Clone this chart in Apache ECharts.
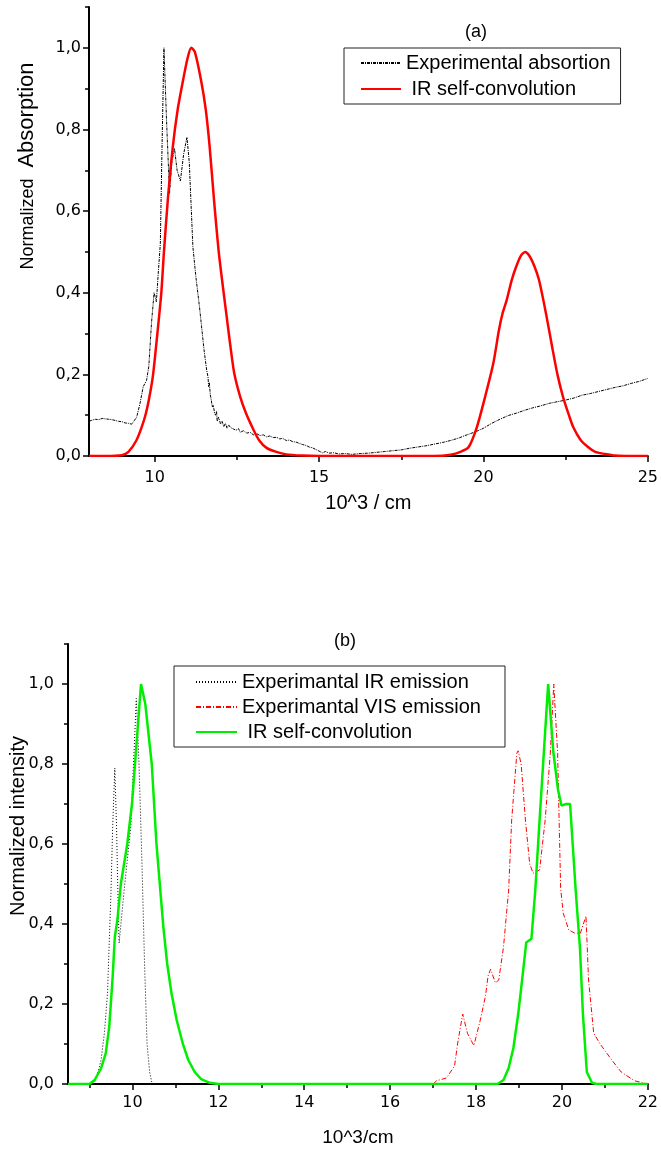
<!DOCTYPE html>
<html>
<head>
<meta charset="utf-8">
<script src="https://cdn.jsdelivr.net/npm/echarts@6/dist/echarts.min.js"></script>
<style>html,body{margin:0;padding:0;background:#fff;}#chart{width:661px;height:1151px;}</style>
</head>
<body>
<div id="chart"></div>
<script>
// ---------- Panel (a) data ----------
const absorptionExp = [
[8.0,0.085],[8.1,0.088],[8.2,0.09],[8.3,0.089],[8.4,0.092],[8.5,0.091],[8.6,0.09],[8.7,0.089],[8.8,0.087],[8.9,0.085],
[9.0,0.084],[9.1,0.081],[9.2,0.08],[9.3,0.078],[9.35,0.081],[9.45,0.095],
[9.55,0.128],[9.65,0.17],[9.75,0.185],[9.82,0.22],[9.9,0.325],[9.98,0.40],[10.05,0.378],[10.1,0.44],[10.17,0.52],
[10.22,0.75],[10.28,1.0],[10.36,0.82],[10.45,0.643],[10.52,0.72],[10.6,0.754],[10.68,0.70],[10.78,0.674],[10.88,0.74],
[10.98,0.781],[11.05,0.72],[11.16,0.513],[11.25,0.44],[11.36,0.366],[11.5,0.26],[11.58,0.21],[11.62,0.194],[11.64,0.17],
[11.66,0.18],[11.69,0.15],[11.72,0.137],[11.75,0.12],[11.78,0.125],[11.82,0.105],[11.85,0.1],[11.88,0.11],[11.9,0.085],
[11.94,0.095],[11.97,0.088],[12.0,0.078],[12.05,0.085],[12.1,0.072],[12.15,0.08],[12.2,0.068],[12.25,0.076],[12.3,0.07],
[12.4,0.066],[12.47,0.063],[12.55,0.067],[12.6,0.058],[12.7,0.062],[12.8,0.056],[12.9,0.058],[13.0,0.052],[13.1,0.055],
[13.2,0.05],[13.3,0.052],[13.4,0.047],[13.5,0.049],[13.6,0.045],[13.7,0.046],[13.8,0.042],[13.9,0.043],[14.0,0.038],
[14.1,0.039],[14.2,0.035],[14.3,0.034],[14.4,0.031],[14.5,0.028],[14.6,0.026],[14.7,0.022],[14.8,0.02],[14.9,0.016],
[15.0,0.012],[15.1,0.008],[15.2,0.011],[15.3,0.007],[15.45,0.008],[15.6,0.005],[15.8,0.006],[16.0,0.004],[16.25,0.006],
[16.5,0.007],[16.75,0.009],[17.0,0.011],[17.25,0.013],[17.5,0.015],[17.75,0.019],
[18.0,0.022],[18.25,0.025],[18.5,0.029],[18.75,0.033],[19.0,0.038],[19.25,0.044],[19.5,0.052],[19.75,0.059],[20.0,0.068],
[20.25,0.08],[20.5,0.09],[20.75,0.099],[21.0,0.105],[21.25,0.112],[21.5,0.118],[21.75,0.123],[22.0,0.129],[22.25,0.133],
[22.5,0.137],[22.75,0.142],[23.0,0.149],[23.25,0.153],[23.5,0.158],[23.75,0.163],[24.0,0.168],[24.25,0.172],[24.5,0.178],
[24.75,0.183],[25.0,0.19]
];
const absorptionConv = [
[8.0,0],[8.5,0],[9.0,0.002],[9.2,0.01],[9.44,0.038],[9.6,0.07],[9.73,0.104],[9.85,0.15],[9.95,0.2],[10.08,0.3],
[10.2,0.4],[10.28,0.5],[10.4,0.63],[10.55,0.758],[10.7,0.85],[10.86,0.92],[11.0,0.975],[11.11,1.0],[11.22,0.99],
[11.41,0.92],[11.55,0.85],[11.67,0.758],[11.8,0.63],[11.94,0.505],[12.05,0.43],[12.19,0.34],[12.3,0.27],[12.42,0.202],
[12.6,0.145],[12.78,0.104],[13.0,0.065],[13.18,0.038],[13.4,0.02],[13.7,0.01],[14.0,0.004],[14.5,0.001],[15.0,0],
[17.0,0],[18.5,0],[19.0,0.003],[19.3,0.01],[19.55,0.022],[19.8,0.071],[20.05,0.145],[20.3,0.227],[20.47,0.308],
[20.58,0.349],[20.7,0.38],[20.86,0.431],[21.0,0.465],[21.15,0.492],[21.27,0.5],[21.4,0.49],[21.55,0.465],[21.69,0.431],
[21.9,0.35],[22.09,0.267],[22.25,0.2],[22.42,0.145],[22.6,0.1],[22.73,0.071],[22.95,0.04],[23.18,0.022],[23.4,0.01],
[23.69,0.005],[24.0,0.001],[24.5,0],[25.0,0]
];
const xTicksA = [10, 15, 20, 25];
const xMinorA = [12.5, 17.5, 22.5];

// ---------- Panel (b) data ----------
const irEmission = [
[9.0,0],[9.12,0.005],[9.2,0.03],[9.27,0.06],[9.35,0.13],[9.42,0.227],[9.5,0.477],[9.54,0.643],[9.59,0.79],[9.63,0.643],
[9.67,0.435],[9.69,0.352],[9.8,0.477],[9.96,0.643],[10.03,0.81],[10.09,0.964],[10.15,0.81],[10.22,0.56],[10.28,0.31],
[10.34,0.102],[10.4,0.03],[10.45,0.005],[10.5,0]
];
const visEmission = [
[17.0,0],[17.08,0.008],[17.31,0.015],[17.5,0.045],[17.57,0.1],[17.69,0.175],[17.8,0.127],[17.95,0.096],[18.1,0.16],
[18.22,0.22],[18.28,0.27],[18.34,0.287],[18.45,0.253],[18.53,0.26],[18.64,0.343],[18.76,0.485],[18.83,0.66],[18.95,0.827],
[18.98,0.833],[19.05,0.8],[19.15,0.66],[19.25,0.55],[19.33,0.527],[19.48,0.535],[19.61,0.66],[19.73,0.827],[19.81,1.0],
[19.9,0.827],[19.97,0.49],[20.03,0.427],[20.16,0.385],[20.3,0.377],[20.43,0.377],[20.56,0.42],[20.62,0.26],[20.74,0.127],
[20.89,0.1],[21.16,0.06],[21.38,0.03],[21.69,0.008],[22.0,0]
];
const irConvolution = [
[8.5,0],[9.0,0],[9.12,0.01],[9.27,0.039],[9.38,0.077],[9.46,0.143],[9.54,0.268],[9.59,0.368],[9.65,0.41],[9.73,0.5],
[9.88,0.6],[9.99,0.7],[10.06,0.8],[10.2,1.0],[10.3,0.95],[10.45,0.8],[10.56,0.6],[10.72,0.393],[10.81,0.3],[10.91,0.227],
[11.03,0.16],[11.17,0.102],[11.3,0.06],[11.45,0.03],[11.6,0.012],[11.8,0.003],[12.0,0],[18.5,0],[18.64,0.01],[18.76,0.04],
[18.87,0.09],[18.98,0.173],[19.07,0.257],[19.17,0.354],[19.29,0.363],[19.38,0.485],[19.48,0.66],[19.68,1.0],[19.8,0.83],
[19.91,0.735],[19.99,0.696],[20.1,0.7],[20.19,0.7],[20.32,0.485],[20.42,0.34],[20.49,0.173],[20.58,0.03],[20.7,0.003],
[20.8,0],[22.0,0]
];
const xTicksB = [10, 12, 14, 16, 18, 20, 22];
const xMinorB = [9, 11, 13, 15, 17, 19, 21];

const yTicks = [0, 0.2, 0.4, 0.6, 0.8, 1.0];
const yMinor = [0.1, 0.3, 0.5, 0.7, 0.9, 1.1];

const TICKFONT = 'DejaVu Sans';
const TXT = 'Liberation Sans';
const fmt = v => Number(v).toFixed(1).replace('.', ',');

function majorX(grid, min, max, ticks, margin, name, nameGap, nameSize) {
  return {
    gridIndex: grid, type: 'value', min: min, max: max, position: 'bottom',
    axisLine: { show: true, onZero: false, lineStyle: { color: '#000', width: 2 } },
    axisTick: { show: true, customValues: ticks, length: 6, lineStyle: { color: '#000', width: 1.5 } },
    axisLabel: { show: true, customValues: ticks, margin: margin, color: '#000', fontFamily: TICKFONT, fontSize: 16 },
    splitLine: { show: false },
    name: name, nameLocation: 'middle', nameGap: nameGap,
    nameTextStyle: { color: '#000', fontFamily: TXT, fontSize: nameSize, verticalAlign: 'top' }
  };
}
function minorX(grid, min, max, ticks) {
  return {
    gridIndex: grid, type: 'value', min: min, max: max, position: 'bottom',
    axisLine: { show: false },
    axisTick: { show: true, customValues: ticks, length: 4, lineStyle: { color: '#000', width: 1.5 } },
    axisLabel: { show: false }, splitLine: { show: false }
  };
}
function majorY(grid, margin) {
  return {
    gridIndex: grid, type: 'value', min: 0, max: 1.1, position: 'left',
    axisLine: { show: true, onZero: false, lineStyle: { color: '#000', width: 2 } },
    axisTick: { show: true, customValues: yTicks, length: 6, lineStyle: { color: '#000', width: 1.5 } },
    axisLabel: { show: true, customValues: yTicks, margin: margin, color: '#000', fontFamily: TICKFONT, fontSize: 16, formatter: fmt },
    splitLine: { show: false }
  };
}
function minorY(grid) {
  return {
    gridIndex: grid, type: 'value', min: 0, max: 1.1, position: 'left',
    axisLine: { show: false },
    axisTick: { show: true, customValues: yMinor, length: 4, lineStyle: { color: '#000', width: 1.5 } },
    axisLabel: { show: false }, splitLine: { show: false }
  };
}

const chart = echarts.init(document.getElementById('chart'), null, { renderer: 'canvas' });
const option = {
  animation: false,
  backgroundColor: '#fff',
  grid: [
    { left: 89, right: 12, top: 7, height: 449, containLabel: false },
    { left: 68, right: 3, top: 644, height: 440, containLabel: false }
  ],
  xAxis: [
    majorX(0, 8, 25, xTicksA, 14, '10^3 / cm', 37, 20),
    minorX(0, 8, 25, xMinorA),
    majorX(1, 8.5, 22, xTicksB, 11, '10^3/cm', 44, 19),
    minorX(1, 8.5, 22, xMinorB)
  ],
  yAxis: [
    majorY(0, 8), minorY(0),
    majorY(1, 14), minorY(1)
  ],
  legend: [
    {
      data: ['Experimental absortion', 'IR self-convolution'],
      orient: 'vertical', left: 344, top: 48, itemWidth: 40, itemHeight: 12, itemGap: 6,
      padding: [5, 10, 5, 16], borderColor: '#222', borderWidth: 1, backgroundColor: '#fff',
      textStyle: { color: '#000', fontFamily: TXT, fontSize: 20 },
      itemStyle: { opacity: 0 },
      formatter: n => n.indexOf('IR') === 0 ? ' ' + n : n
    },
    {
      data: ['Experimantal IR emission', 'Experimantal VIS emission', 'IR self-convolution (b)'],
      orient: 'vertical', left: 174, top: 666, itemWidth: 41, itemHeight: 12, itemGap: 5,
      padding: [6, 24, 5, 21], borderColor: '#222', borderWidth: 1, backgroundColor: '#fff',
      textStyle: { color: '#000', fontFamily: TXT, fontSize: 20 },
      itemStyle: { opacity: 0 },
      formatter: n => n.indexOf('IR') === 0 ? ' IR self-convolution' : n
    }
  ],
  graphic: [
    { type: 'text', x: 476, y: 32, style: { text: '(a)', font: '18px "Liberation Sans"', fill: '#000', align: 'center', verticalAlign: 'middle' } },
    { type: 'text', x: 345, y: 641, style: { text: '(b)', font: '18px "Liberation Sans"', fill: '#000', align: 'center', verticalAlign: 'middle' } },
    { type: 'text', x: 27, y: 115, rotation: Math.PI / 2, style: { text: 'Absorption', font: '22px "Liberation Sans"', fill: '#000', align: 'center', verticalAlign: 'middle' } },
    { type: 'text', x: 28, y: 224, rotation: Math.PI / 2, style: { text: 'Normalized', font: '18px "Liberation Sans"', fill: '#000', align: 'center', verticalAlign: 'middle' } },
    { type: 'text', x: 18, y: 826, rotation: Math.PI / 2, style: { text: 'Normalized intensity', font: '20px "Liberation Sans"', fill: '#000', align: 'center', verticalAlign: 'middle' } }
  ],
  series: [
    {
      name: 'Experimental absortion', type: 'line', xAxisIndex: 0, yAxisIndex: 0, data: absorptionExp,
      symbol: 'none', showSymbol: false, lineStyle: { color: '#000', width: 1, type: [3, 1, 1, 1] }, itemStyle: { color: '#000' }, z: 3
    },
    {
      name: 'IR self-convolution', type: 'line', xAxisIndex: 0, yAxisIndex: 0, data: absorptionConv,
      symbol: 'none', showSymbol: false, smooth: 0.25,
      lineStyle: { color: '#ff0000', width: 2.5 }, itemStyle: { color: '#ff0000' }, z: 4
    },
    {
      name: 'Experimantal IR emission', type: 'line', xAxisIndex: 2, yAxisIndex: 2, data: irEmission,
      symbol: 'none', showSymbol: false, lineStyle: { color: '#000', width: 1, type: [1, 2] }, itemStyle: { color: '#000' }, z: 3
    },
    {
      name: 'Experimantal VIS emission', type: 'line', xAxisIndex: 2, yAxisIndex: 2, data: visEmission,
      symbol: 'none', showSymbol: false, lineStyle: { color: '#ff0000', width: 1, type: [5, 2, 1, 2] }, itemStyle: { color: '#ff0000' }, z: 3
    },
    {
      name: 'IR self-convolution (b)', type: 'line', xAxisIndex: 2, yAxisIndex: 2, data: irConvolution,
      symbol: 'none', showSymbol: false, lineStyle: { color: '#00ee00', width: 2.5 }, itemStyle: { color: '#00ee00' }, z: 4
    }
  ]
};
chart.setOption(option);
</script>
</body>
</html>
